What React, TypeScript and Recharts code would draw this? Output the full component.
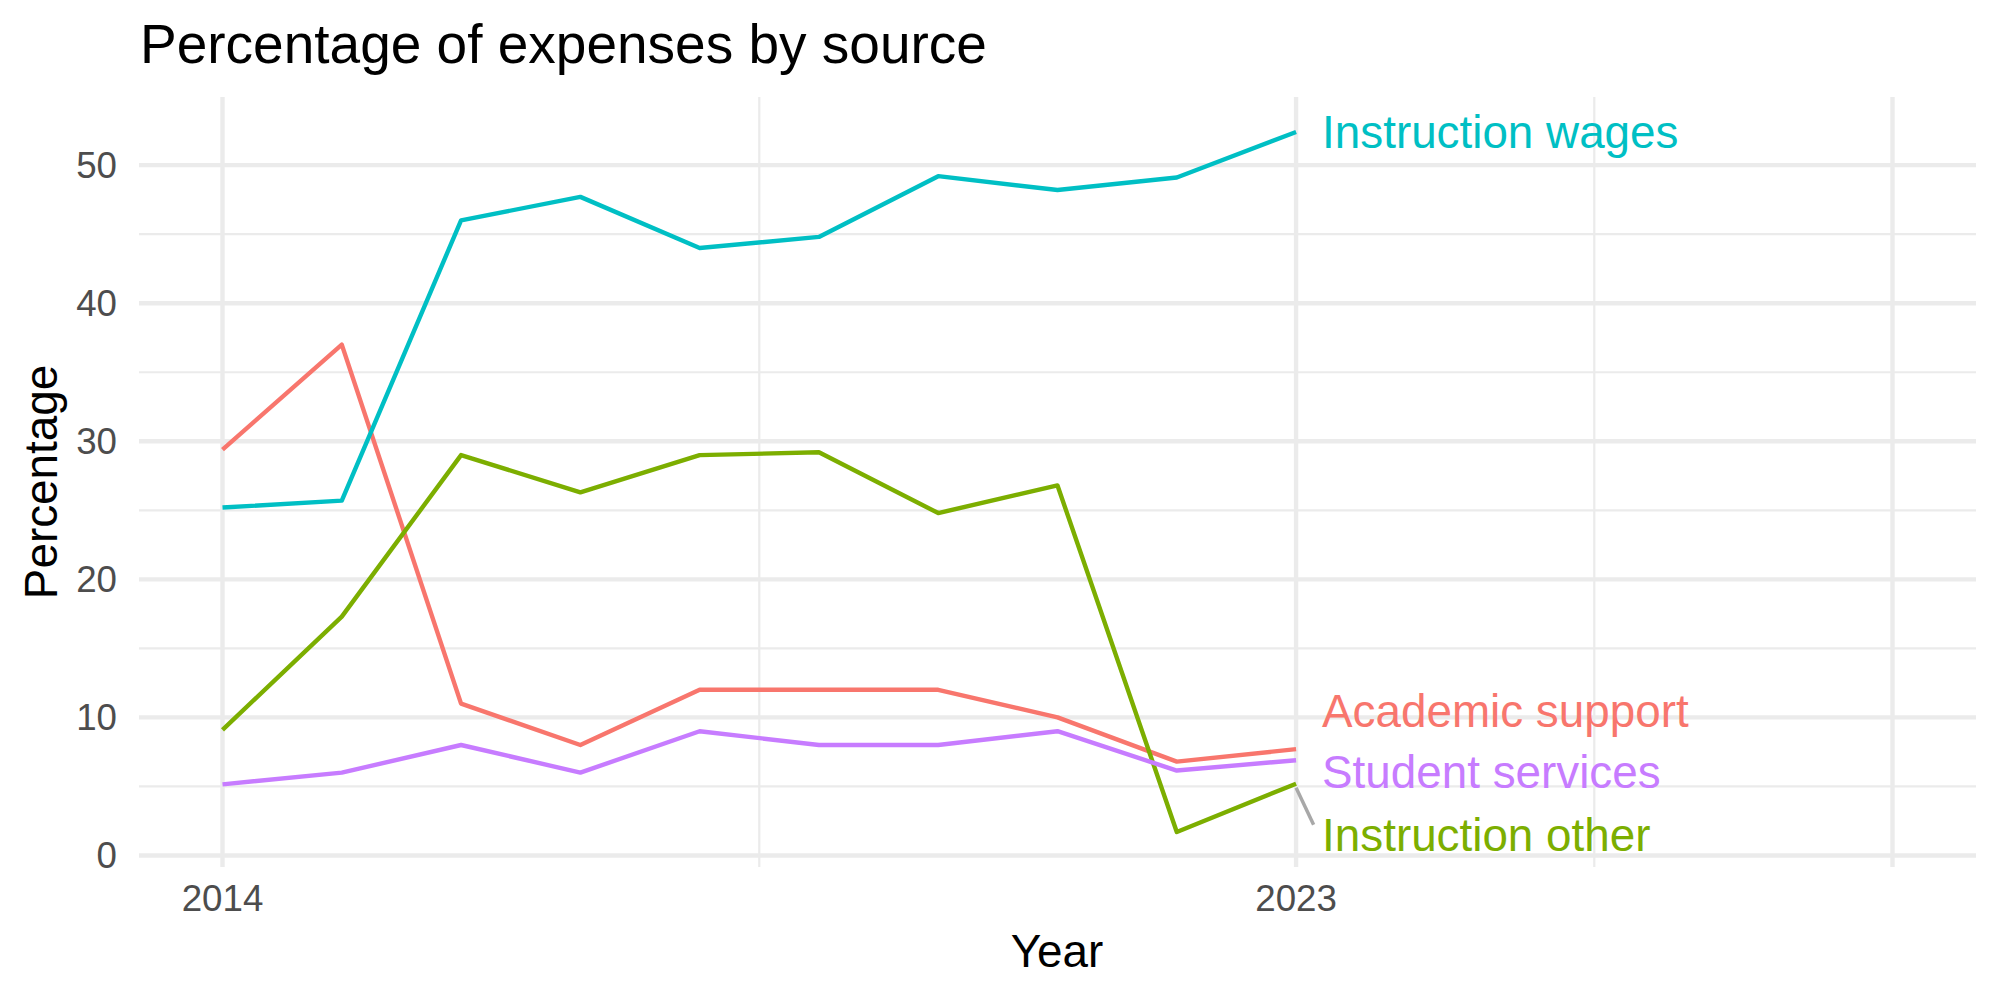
import React from "react";
import { LineChart, Line, XAxis, YAxis, ReferenceLine, ReferenceDot } from "recharts";

// Expense shares by source, 2014–2023 (percent)
const years = [2014, 2015, 2016, 2017, 2018, 2019, 2020, 2021, 2022, 2023];
const academicSupport = [29.4, 37.0, 11.0, 8.0, 12.0, 12.0, 12.0, 10.0, 6.8, 7.7];
const instructionOther = [9.1, 17.3, 29.0, 26.3, 29.0, 29.2, 24.8, 26.8, 1.7, 5.2];
const instructionWages = [25.2, 25.7, 46.0, 47.7, 44.0, 44.8, 49.2, 48.2, 49.1, 52.4];
const studentServices = [5.15, 6.0, 8.0, 6.0, 9.0, 8.0, 8.0, 9.0, 6.15, 6.9];

const seriesNames = ["Academic support", "Instruction other", "Instruction wages", "Student services"];
const seriesKeys = ["academic", "other", "wages", "student"];
const seriesColors = ["#F8766D", "#7CAE00", "#00BFC4", "#C77CFF"];

// End labels, nudged apart vertically so they do not overlap
const labelValues = [10.5, 1.45, 52.4, 6.07];

const xTicks = [2014, 2023, 2028];
const xTickLabels = ["2014", "2023", ""];
const xMinorGrid = [2018.5, 2025.5];
const yTicks = [0, 10, 20, 30, 40, 50];
const yMinorGrid = [5, 15, 25, 35, 45];

const rows = years.map((year, i) => ({
  year,
  academic: academicSupport[i],
  other: instructionOther[i],
  wages: instructionWages[i],
  student: studentServices[i],
}));

// continuous scales padded by 5% of their range
const allValues = [...academicSupport, ...instructionOther, ...instructionWages, ...studentServices];
const yMin = Math.min(...allValues);
const yMax = Math.max(...allValues);
const yPad = (yMax - yMin) * 0.05;
const xLimits = [2014, 2028];
const xPad = (xLimits[1] - xLimits[0]) * 0.05;

const FONT = "'Liberation Sans', Arial, Helvetica, sans-serif";
const GRID = "#EBEBEB";
const MAJOR_W = 4.4;
const MINOR_W = 2.2;
const TICK_STYLE = { fill: "#4D4D4D", fontSize: 36.7, fontFamily: FONT };

const W = 2000;
const H = 1000;
const PLOT_TOP = 97;
const PLOT_BOTTOM = 867;

export default function App() {
  return (
    <div style={{ position: "absolute", left: 0, top: 0, width: W, height: H, background: "#fff" }}>
      <LineChart
        width={W}
        height={H}
        data={rows}
        margin={{ top: PLOT_TOP, right: 24, bottom: H - PLOT_BOTTOM - 60, left: 0 }}
      >
        <XAxis
          dataKey="year"
          type="number"
          domain={[xLimits[0] - xPad, xLimits[1] + xPad]}
          ticks={xTicks}
          tickFormatter={(v: number) => xTickLabels[xTicks.indexOf(v)] ?? ""}
          tickLine={false}
          axisLine={false}
          tickMargin={12}
          height={60}
          tick={TICK_STYLE}
          allowDataOverflow
        />
        <YAxis
          type="number"
          domain={[yMin - yPad, yMax + yPad]}
          ticks={yTicks}
          tickLine={false}
          axisLine={false}
          tickMargin={16}
          width={139}
          tick={TICK_STYLE}
          allowDataOverflow
        />

        {yMinorGrid.map((v) => (
          <ReferenceLine key={`ym${v}`} y={v} stroke={GRID} strokeWidth={MINOR_W} />
        ))}
        {xMinorGrid.map((v) => (
          <ReferenceLine key={`xm${v}`} x={v} stroke={GRID} strokeWidth={MINOR_W} />
        ))}
        {yTicks.map((v) => (
          <ReferenceLine key={`yM${v}`} y={v} stroke={GRID} strokeWidth={MAJOR_W} />
        ))}
        {xTicks.map((v) => (
          <ReferenceLine key={`xM${v}`} x={v} stroke={GRID} strokeWidth={MAJOR_W} />
        ))}

        {seriesKeys.map((k, i) => (
          <Line
            key={k}
            dataKey={k}
            name={seriesNames[i]}
            stroke={seriesColors[i]}
            strokeWidth={4.4}
            strokeLinejoin="round"
            dot={false}
            activeDot={false}
            type="linear"
            isAnimationActive={false}
          />
        ))}

        {/* connector from the last Instruction other point to its label */}
        <ReferenceLine
          segment={[
            { x: 2023, y: 4.9 },
            { x: 2023.147, y: 2.22 },
          ]}
          stroke="#A8A8A8"
          strokeWidth={3.5}
        />

        {seriesKeys.map((k, i) => (
          <ReferenceDot
            key={`lab${k}`}
            x={years[years.length - 1]}
            y={labelValues[i]}
            r={0}
            shape={(p: any) => (
              <text
                x={p.cx + 26}
                y={p.cy + 16}
                fill={seriesColors[i]}
                fontSize={45.8}
                fontFamily={FONT}
              >
                {seriesNames[i]}
              </text>
            )}
          />
        ))}

        <text x={140} y={63} fontSize={55} fontFamily={FONT} fill="#000">
          Percentage of expenses by source
        </text>
        <text x={1057} y={967} fontSize={45.8} fontFamily={FONT} fill="#000" textAnchor="middle">
          Year
        </text>
        <text
          x={57}
          y={482}
          fontSize={45.8}
          fontFamily={FONT}
          fill="#000"
          textAnchor="middle"
          transform="rotate(-90, 57, 482)"
        >
          Percentage
        </text>
      </LineChart>
    </div>
  );
}
